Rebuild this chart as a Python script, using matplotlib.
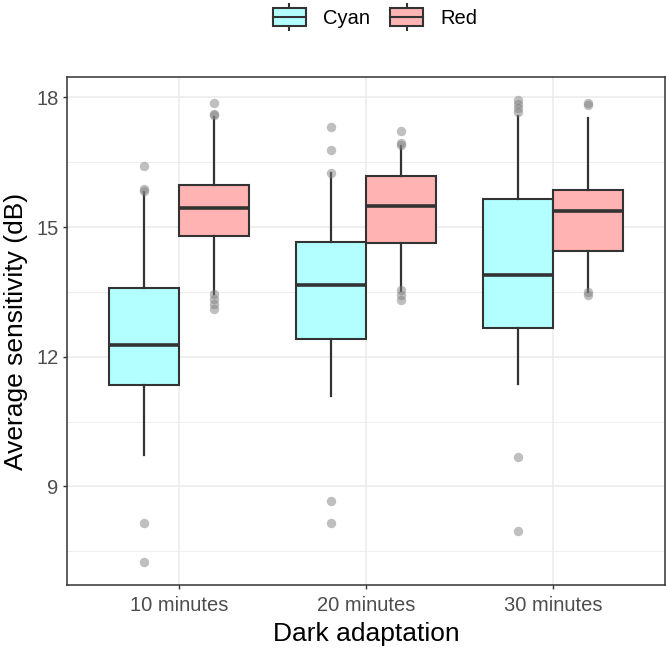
import matplotlib
matplotlib.use("Agg")
import matplotlib.pyplot as plt
from matplotlib.patches import Rectangle
from matplotlib.lines import Line2D
from matplotlib.legend_handler import HandlerBase

plt.rcParams['font.family'] = ['Liberation Sans', 'DejaVu Sans']

# data
groups = ["10 minutes", "20 minutes", "30 minutes"]
series = ["Cyan", "Red"]

cyan_q1 = [11.35, 12.42, 12.66]
cyan_med = [12.26, 13.66, 13.88]
cyan_q3 = [13.59, 14.66, 15.64]
cyan_lo = [9.72, 11.08, 11.38]
cyan_hi = [15.81, 16.24, 17.57]
cyan_fliers = [[15.84, 15.88, 16.41, 8.15, 7.25],
               [16.25, 16.79, 17.31, 8.67, 8.15],
               [17.65, 17.76, 17.85, 17.94, 9.69, 7.97]]

red_q1 = [14.80, 14.64, 14.45]
red_med = [15.43, 15.48, 15.38]
red_q3 = [15.97, 16.18, 15.85]
red_lo = [13.45, 13.51, 13.49]
red_hi = [17.55, 16.87, 17.52]
red_fliers = [[17.58, 17.62, 17.88, 13.44, 13.33, 13.22, 13.11],
              [16.90, 16.94, 17.22, 13.54, 13.43, 13.32],
              [17.82, 17.86, 13.50, 13.43]]

fills = {"Cyan": "#B3FFFF", "Red": "#FFB3B3"}
edge = "#333333"

fig = plt.figure(figsize=(6.66, 6.5), dpi=100)
ax = fig.add_axes([67 / 666, 65 / 650, 598 / 666, 508 / 650])

def make_stats(q1, med, q3, lo, hi, fl):
    out = []
    for i in range(len(q1)):
        out.append({"med": med[i], "q1": q1[i], "q3": q3[i],
                    "whislo": lo[i], "whishi": hi[i], "fliers": fl[i]})
    return out

stats = {
    "Cyan": make_stats(cyan_q1, cyan_med, cyan_q3, cyan_lo, cyan_hi, cyan_fliers),
    "Red": make_stats(red_q1, red_med, red_q3, red_lo, red_hi, red_fliers),
}
offsets = {"Cyan": -0.1875, "Red": 0.1875}

for s in series:
    pos = [i + 1 + offsets[s] for i in range(len(groups))]
    ax.bxp(stats[s], positions=pos, widths=0.375, patch_artist=True,
           showcaps=False, manage_ticks=False,
           boxprops=dict(facecolor=fills[s], edgecolor=edge, linewidth=1.5),
           medianprops=dict(color=edge, linewidth=2.6, solid_capstyle='butt'),
           whiskerprops=dict(color=edge, linewidth=1.6),
           flierprops=dict(marker='o', markerfacecolor='#808080',
                           markeredgecolor='none', alpha=0.5, markersize=6.8),
           zorder=3)

ax.set_xlim(0.4, 3.6)
ax.set_ylim(6.72, 18.47)
ax.set_xticks([1, 2, 3])
ax.set_xticklabels(groups)
ax.set_yticks([9, 12, 15, 18])
ax.set_yticks([7.5, 10.5, 13.5, 16.5], minor=True)

ax.grid(which='major', color='#EBEBEB', linewidth=1.1, zorder=0)
ax.grid(which='minor', axis='y', color='#EBEBEB', linewidth=0.6, zorder=0)
ax.set_axisbelow(True)
for sp in ax.spines.values():
    sp.set_color(edge)
    sp.set_linewidth(1.1)

ax.tick_params(which='major', length=3.2, width=1.0, color=edge,
               labelcolor='#4D4D4D', labelsize=14.5, pad=3)
ax.tick_params(axis='x', pad=5)
ax.tick_params(which='minor', length=0)

ax.set_xlabel("Dark adaptation", fontsize=19, color='black', labelpad=5)
ax.set_ylabel("Average sensitivity (dB)", fontsize=19, color='black', labelpad=6)


# legend keys drawn like small boxplots
class BoxKey(HandlerBase):
    def create_artists(self, legend, orig_handle, xdescent, ydescent,
                       width, height, fontsize, trans):
        x0, y0 = -xdescent, -ydescent
        b0 = y0 + height * 0.17
        b1 = y0 + height * 0.83
        xm = x0 + width / 2
        rect = Rectangle((x0, b0), width, b1 - b0, facecolor=orig_handle,
                         edgecolor=edge, linewidth=1.5, transform=trans)
        med = Line2D([x0, x0 + width], [(b0 + b1) / 2] * 2, color=edge,
                     linewidth=1.5, transform=trans)
        w1 = Line2D([xm, xm], [y0, b0], color=edge, linewidth=1.5, transform=trans)
        w2 = Line2D([xm, xm], [b1, y0 + height], color=edge, linewidth=1.5,
                    transform=trans)
        return [w1, w2, rect, med]


fig.legend([fills[s] for s in series], series,
           handler_map={str: BoxKey()},
           loc='center', bbox_to_anchor=(375 / 666, 1 - 17 / 650),
           ncol=2, frameon=False, fontsize=14.5,
           handlelength=1.64, handleheight=1.64, handletextpad=0.85,
           columnspacing=1.0)

fig.savefig("out.png", dpi=100)
